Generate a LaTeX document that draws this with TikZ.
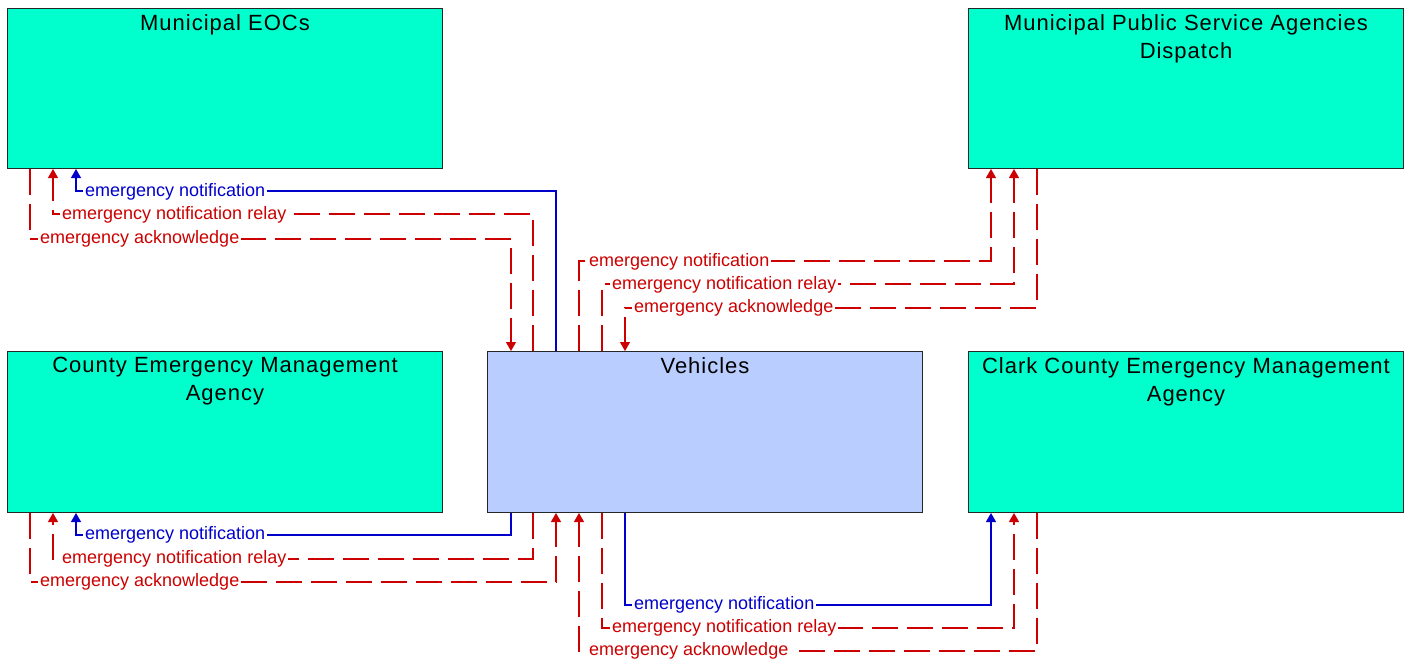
\documentclass[tikz,border=0pt]{standalone}
\usepackage{fontspec}
\setmainfont{Liberation Sans}
\newfontfamily\boxtitlefont[LetterSpace=4.5]{Liberation Sans}
\usetikzlibrary{arrows.meta,calc}
\definecolor{agencyfill}{RGB}{0,255,204}
\definecolor{vehfill}{RGB}{185,205,255}
\definecolor{flowred}{RGB}{204,0,0}
\definecolor{flowblue}{RGB}{0,0,204}

\begin{document}
\begin{tikzpicture}[x=1pt,y=-1pt,
  box/.style={draw=black!85, line width=1pt, minimum width=435pt,
    minimum height=160pt, inner sep=0pt, anchor=north west},
  agency/.style={box, fill=agencyfill},
  vehicle/.style={box, fill=vehfill},
  title/.style={font=\boxtitlefont\fontsize{22}{28}\selectfont,
    align=center, inner sep=0pt, anchor=north},
  flow/.style={line width=1.2pt, -{Triangle[length=9pt,width=10pt]}},
  req/.style={flow, draw=flowred, dash pattern=on 26pt off 9pt},
  note/.style={flow, draw=flowblue},
  lbl/.style={font=\fontsize{18}{20}\selectfont, fill=white,
    inner xsep=2pt, inner ysep=1pt, anchor=west},
]
% canvas
\fill[white] (0,0) rectangle (1418,667);
\useasboundingbox (0,0) rectangle (1418,667);

% entities
\node[agency] (eoc) at (7,8) {};
\node[agency] (mpsad) at (968,8) {};
\node[agency, minimum height=161pt] (cema) at (7,351) {};
\node[vehicle, minimum height=161pt] (veh) at (487,351) {};
\node[agency, minimum height=161pt] (clark) at (968,351) {};

\node[title] (eoc-t) at ([yshift=-6pt]eoc.north) {Municipal EOCs};
\node[title] (mpsad-t) at ([yshift=-6pt]mpsad.north) {Municipal Public Service Agencies\\Dispatch};
\node[title] (cema-t) at ([yshift=-6pt]cema.north) {County Emergency Management\\Agency};
\node[title] (veh-t) at ([yshift=-6pt]veh.north) {Vehicles};
\node[title] (clark-t) at ([yshift=-6pt]clark.north) {Clark County Emergency Management\\Agency};

% Vehicles <-> Municipal EOCs
\draw[note] ($(veh.north west)+(69,0)$) -- ++(0,-160) -| ($(eoc.south west)+(69,0)$);
\draw[req] ($(veh.north west)+(46,0)$) -- ++(0,-137) -| ($(eoc.south west)+(46,0)$);
\draw[req] ($(eoc.south west)+(23,0)$) -- ++(0,70) -| ($(veh.north west)+(24,0)$);

% Vehicles <-> Municipal Public Service Agencies Dispatch
\draw[req] ($(veh.north west)+(92,0)$) -- ++(0,-90) -| ($(mpsad.south west)+(23,0)$);
\draw[req] ($(veh.north west)+(115,0)$) -- ++(0,-67) -| ($(mpsad.south west)+(46,0)$);
\draw[req] ($(mpsad.south west)+(69,0)$) -- ++(0,139) -| ($(veh.north west)+(138,0)$);

% Vehicles <-> County Emergency Management Agency
\draw[note] ($(veh.south west)+(24,0)$) -- ++(0,22) -| ($(cema.south west)+(69,0)$);
\draw[req] ($(veh.south west)+(46,0)$) -- ++(0,46) -| ($(cema.south west)+(46,0)$);
\draw[req] ($(cema.south west)+(23,0)$) -- ++(0,69) -| ($(veh.south west)+(69,0)$);

% Vehicles <-> Clark County Emergency Management Agency
\draw[note] ($(veh.south west)+(138,0)$) -- ++(0,92) -| ($(clark.south west)+(23,0)$);
\draw[req] ($(veh.south west)+(115,0)$) -- ++(0,115) -| ($(clark.south west)+(46,0)$);
\draw[req] ($(clark.south west)+(69,0)$) -- ++(0,138) -| ($(veh.south west)+(92,0)$);

% flow labels
\node[lbl, text=flowblue] (l1) at (83,192) {emergency notification};
\node[lbl, text=flowred] (l2) at (60,215) {emergency notification relay};
\node[lbl, text=flowred] (l3) at (38,239) {emergency acknowledge};

\node[lbl, text=flowred] (l4) at (587,262) {emergency notification};
\node[lbl, text=flowred] (l5) at (610,285) {emergency notification relay};
\node[lbl, text=flowred] (l6) at (632,308) {emergency acknowledge};

\node[lbl, text=flowblue] (l7) at (83,535) {emergency notification};
\node[lbl, text=flowred] (l8) at (60,559) {emergency notification relay};
\node[lbl, text=flowred] (l9) at (38,582) {emergency acknowledge};

\node[lbl, text=flowblue] (l10) at (632,605) {emergency notification};
\node[lbl, text=flowred] (l11) at (610,628) {emergency notification relay};
\node[lbl, text=flowred] (l12) at (587,651) {emergency acknowledge};
\end{tikzpicture}
\end{document}
